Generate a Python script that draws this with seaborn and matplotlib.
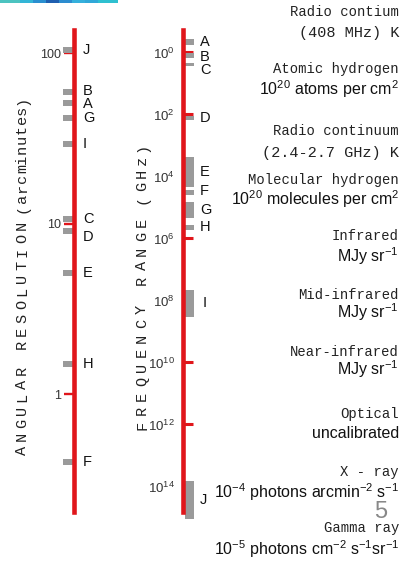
import matplotlib
matplotlib.use('Agg')
import matplotlib.pyplot as plt
from matplotlib.colors import ListedColormap
from matplotlib.ticker import NullLocator
from matplotlib.transforms import ScaledTranslation
import numpy as np
import seaborn as sns

# ---- values ----
# angular resolution (arcminutes) of each survey
res_labels = ['J', 'B', 'A', 'G', 'I', 'C', 'D', 'E', 'H', 'F']
res_values = [104, 59, 51, 41.5, 29.5, 10.6, 9.1, 5.1, 1.5, 0.40]
res_ticks = [1, 10, 100]

# frequency range (GHz) of each survey
freq_labels = ['A', 'B', 'C', 'D', 'E', 'F', 'G', 'H', 'I', 'J']
freq_low = [0.40, 1.1, 2.3, 120, 2.5e3, 2.9e4, 7.1e4, 3.9e5, 4.9e7, 7e13]
freq_high = [0.60, 1.6, 3.0, 165, 2.35e4, 4.2e4, 2.3e5, 5.6e5, 3.6e8, 1.2e15]
freq_exponents = [0, 2, 4, 6, 8, 10, 12, 14]

# survey descriptions on the right (title, units)
titles = ['Radio contium', 'Atomic hydrogen', 'Radio continuum', 'Molecular hydrogen',
          'Infrared', 'Mid-infrared', 'Near-infrared', 'Optical', 'X - ray', 'Gamma ray']
units = ['(408 MHz) K', r'$10^{20}$ atoms per cm$^{2}$', '(2.4-2.7 GHz) K',
         r'$10^{20}$ molecules per cm$^{2}$', r'MJy sr$^{-1}$', r'MJy sr$^{-1}$',
         r'MJy sr$^{-1}$', 'uncalibrated', r'$10^{-4}$ photons arcmin$^{-2}$ s$^{-1}$',
         r'$10^{-5}$ photons cm$^{-2}$ s$^{-1}$sr$^{-1}$']

strip_colors = ['#4cc3c0', '#33b5d6', '#2a8fd0', '#1f5fb0', '#2c8ccf', '#35b0dc', '#30a8d8', '#2fc0d0']

# ---- style ----
sns.set_style('white')
plt.rcParams['font.family'] = ['Liberation Sans', 'DejaVu Sans']
plt.rcParams['mathtext.fontset'] = 'custom'
plt.rcParams['mathtext.rm'] = 'Liberation Sans'
plt.rcParams['mathtext.it'] = 'Liberation Sans:italic'
plt.rcParams['mathtext.bf'] = 'Liberation Sans:bold'

RED = '#e0161b'
GREY = '#9a9a9a'
W, H = 405, 563

fig = plt.figure(figsize=(W / 100, H / 100), dpi=100)


def px(x, y):
    return x / W, 1 - y / H


def axis_box(xc):
    # axes spanning y 30..512 px, x data = pixel offset from the red line
    ax = fig.add_axes([(xc - 30) / W, (H - 512) / H, 60 / W, 482 / H])
    ax.set_xlim(-30, 30)
    ax.set_facecolor('none')
    for s in ['top', 'right', 'bottom']:
        ax.spines[s].set_visible(False)
    ax.spines['left'].set_position(('data', 0))
    ax.spines['left'].set_color(RED)
    ax.spines['left'].set_linewidth(3.3)
    ax.set_xticks([])
    return ax


def spaced(x, y0, text, step, size=11):
    for i, ch in enumerate(text):
        if ch != ' ':
            fig.text(*px(x, y0 - step * i), ch, rotation=90, ha='center', va='center',
                     family='Liberation Mono', fontsize=size, color='#222222')


# ---- top strip ----
sax = fig.add_axes([0, 1 - 3 / H, 118 / W, 3 / H])
sax.imshow(np.arange(len(strip_colors)).reshape(1, -1), cmap=ListedColormap(strip_colors),
           aspect='auto', interpolation='bicubic')
sax.axis('off')

# ---- angular resolution axis ----
ax1 = axis_box(74)
ax1.set_yscale('log')
ax1.set_ylim(0.203, 137)
ax1.set_yticks(res_ticks)
ax1.set_yticklabels([str(t) for t in res_ticks])
ax1.yaxis.set_minor_locator(NullLocator())
ax1.tick_params(axis='y', left=True, labelleft=True, direction='out', length=7.5,
                width=1.7, color=RED, labelsize=9, labelcolor='#333333', pad=2)
rect = [(-1, -0.55), (1, -0.55), (1, 0.55), (-1, 0.55)]
sns.scatterplot(x=[-6.5] * len(res_values), y=res_values, marker=rect, s=44,
                color=GREY, linewidth=0, ax=ax1, zorder=1, clip_on=False, legend=False)
res_nudge = {'B': 1.5, 'A': -1, 'D': -6}
for lab, v in zip(res_labels, res_values):
    off = ScaledTranslation(0, res_nudge.get(lab, 0) / 100, fig.dpi_scale_trans)
    ax1.text(9, v, lab, ha='left', va='center', fontsize=10.5, color='#111111',
             transform=ax1.transData + off, clip_on=False)

# ---- frequency axis ----
ax2 = axis_box(183)
ax2.set_yscale('log')
ax2.set_ylim(10 ** 14.85, 10 ** -0.70)
ticks = [10.0 ** e for e in freq_exponents]
ax2.set_yticks(ticks)
ax2.set_yticklabels([])
ax2.yaxis.set_minor_locator(NullLocator())
ax2.tick_params(axis='y', left=True, direction='in', length=7.5, width=2.2, color=RED)
lo = np.array(freq_low)
hi = np.array(freq_high)
ax2.bar(6.5, hi - lo, width=9, bottom=lo, color=GREY, linewidth=0, zorder=1, clip_on=False)
lab_off = ScaledTranslation(0, -3 / 100, fig.dpi_scale_trans)
for e, t in zip(freq_exponents, ticks):
    ax2.text(-8, t, r'$10^{%d}$' % e, ha='right', va='center', fontsize=9.5,
             color='#333333', transform=ax2.transData + lab_off)
freq_nudge = {'B': -1.5, 'C': -5, 'F': 2}
for lab, a, b in zip(freq_labels, freq_low, freq_high):
    off = ScaledTranslation(0, freq_nudge.get(lab, 0) / 100, fig.dpi_scale_trans)
    xl = 20 if lab == 'I' else 17
    ax2.text(xl, np.sqrt(a * b), lab, ha='left', va='center', fontsize=10.5, color='#111111',
             transform=ax2.transData + off, clip_on=False)

# ---- axis titles ----
spaced(22, 450, 'ANGULAR RESOLUTION', 13.2)
spaced(22, 208, '(arcminutes)', 9.8)
spaced(142, 425, 'FREQUENCY RANGE', 14.5)
spaced(142, 199, '(GHz)', 13)

# ---- descriptions ----
title_y = [12, 69, 131, 180, 236, 295, 352, 414, 472, 528]
unit_y = [33, 89, 153, 199, 256, 312, 369, 434, 492, 549]
for t, u, ty, uy in zip(titles, units, title_y, unit_y):
    fig.text(*px(399, ty), t, ha='right', va='center', family='Liberation Mono',
             fontsize=10, color='#222222')
    if u.startswith('('):
        fig.text(*px(399, uy), u, ha='right', va='center', family='Liberation Mono',
                 fontsize=11, color='#222222')
    else:
        fig.text(*px(399, uy), u, ha='right', va='center', fontsize=11.5, color='#111111')

fig.text(*px(381, 512), '5', ha='center', va='center', fontsize=17, color='#888888')

fig.savefig('out.png', dpi=100)
